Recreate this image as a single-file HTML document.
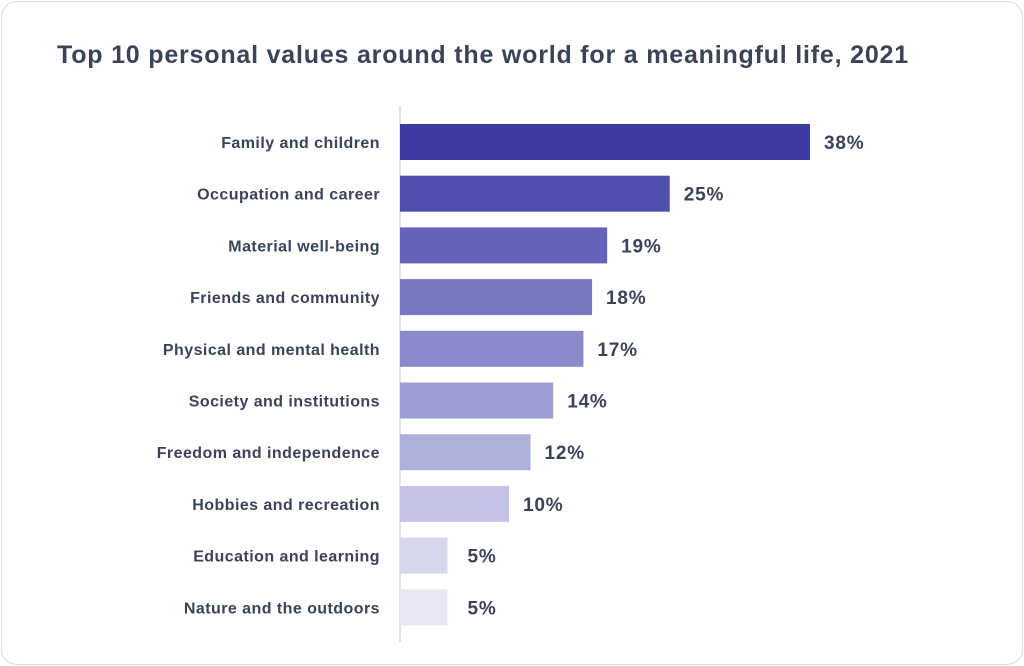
<!DOCTYPE html>
<html><head><meta charset="utf-8"><style>
body{margin:0;background:#fff;font-family:"Liberation Sans",sans-serif;}
#card{position:absolute;left:1px;top:1px;width:1020px;height:662px;border:1px solid #dcdce0;border-radius:16px;background:#fff;}
#title{position:absolute;left:57px;top:41px;font-size:25px;font-weight:bold;color:#3a4357;margin:0;letter-spacing:0.8px;}
</style></head><body>
<div id="card"></div>
<h1 id="title">Top 10 personal values around the world for a meaningful life, 2021</h1>
<svg id="chart" width="1024" height="666" style="position:absolute;left:0;top:0"></svg>
<script>
const categories=["Family and children","Occupation and career","Material well-being","Friends and community","Physical and mental health","Society and institutions","Freedom and independence","Hobbies and recreation","Education and learning","Nature and the outdoors"];
const values=[38,25,19.2,17.8,17,14.2,12.1,10.1,4.4,4.4];
const valueLabels=["38%","25%","19%","18%","17%","14%","12%","10%","5%","5%"];
const colors=["#3b3ba3","#4f4fae","#6363b9","#7777c2","#8989cb","#9d9dd3","#b0b0dc","#c4c4e4","#d7d7ec","#e8e8f4"];
const NS="http://www.w3.org/2000/svg";
const svg=document.getElementById('chart');
const x0=400,scale=410/38,y0=124,step=51.7,bh=36;
const xs=v=>x0+v*scale;
const ys=i=>y0+i*step;
function mk(t,a){const e=document.createElementNS(NS,t);for(const k in a)e.setAttribute(k,a[k]);svg.appendChild(e);return e;}
const ax=mk('line',{x1:x0,x2:x0,y1:106,y2:642,stroke:'#dcdce0','stroke-width':1.5});


categories.forEach((c,i)=>{
 const r=mk('rect',{x:x0,y:ys(i),width:xs(values[i])-x0,height:bh,fill:colors[i]});
 
 
 const l=mk('text',{x:380,y:ys(i)+bh/2+6,'text-anchor':'end','font-size':16,'font-weight':'bold',fill:'#3a4357','letter-spacing':'0.45','font-family':'Liberation Sans, sans-serif'});
 l.textContent=c;
 
 
 const v=mk('text',{x:xs(values[i])+(values[i]<6?20:14),y:ys(i)+bh/2+7,'font-size':19,'font-weight':'bold',fill:'#3a4357','letter-spacing':'0.8','font-family':'Liberation Sans, sans-serif'});
 v.textContent=valueLabels[i];
 
 
});
</script>
</body></html>
